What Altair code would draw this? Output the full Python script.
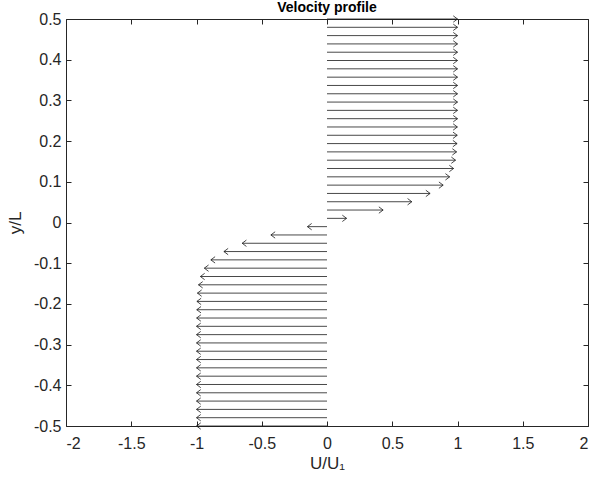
import altair as alt
import pandas as pd

# Wall-normal positions (y/L), bottom to top
y_pos = [-0.5000, -0.4796, -0.4592, -0.4388, -0.4184, -0.3980, -0.3776, -0.3571,
         -0.3367, -0.3163, -0.2959, -0.2755, -0.2551, -0.2347, -0.2143, -0.1939,
         -0.1735, -0.1531, -0.1327, -0.1122, -0.0918, -0.0714, -0.0510, -0.0306,
         -0.0102,
         0.0102, 0.0306, 0.0510, 0.0714, 0.0918, 0.1122, 0.1327, 0.1531,
         0.1735, 0.1939, 0.2143, 0.2347, 0.2551, 0.2755, 0.2959, 0.3163,
         0.3367, 0.3571, 0.3776, 0.3980, 0.4184, 0.4388, 0.4592, 0.4796,
         0.5000]

# Streamwise velocity U/U1 at each position
u_vel = [-1.0, -1.0, -1.0, -1.0, -1.0, -1.0, -1.0, -1.0,
         -1.0, -1.0, -1.0, -1.0, -1.0, -0.999, -0.998, -0.997,
         -0.993, -0.985, -0.97, -0.94, -0.89, -0.79, -0.65, -0.43,
         -0.15,
         0.15, 0.43, 0.65, 0.79, 0.89, 0.94, 0.97, 0.985,
         0.993, 0.997, 0.998, 0.999, 1.0, 1.0, 1.0, 1.0,
         1.0, 1.0, 1.0, 1.0, 1.0, 1.0, 1.0, 1.0,
         1.0]

x_ticks = [-2, -1.5, -1, -0.5, 0, 0.5, 1, 1.5, 2]
y_ticks = [-0.5, -0.4, -0.3, -0.2, -0.1, 0, 0.1, 0.2, 0.3, 0.4, 0.5]

df = pd.DataFrame({"y": y_pos, "u": u_vel})
df["x0"] = 0.0
df["dir"] = ["r" if v >= 0 else "l" for v in u_vel]

FONT = "Liberation Sans"
AX = "#262626"
ARROW = "#1a1a1a"
TICK_LEN = 5

# open V-shaped arrowheads, tip at the symbol origin
head_right = "M-1,-0.75L0,0L-1,0.75"
head_left = "M1,-0.75L0,0L1,0.75"

xs = alt.Scale(domain=[-2, 2], nice=False, zero=False)
ys = alt.Scale(domain=[-0.5, 0.5], nice=False, zero=False)


def frame_axis(orient, values, **kw):
    # axis line (box edge) with optional labels, no ticks
    return alt.Axis(values=values, orient=orient, ticks=False, grid=False,
                    domainColor=AX, domainWidth=1, labelColor=AX,
                    labelFont=FONT, labelFontSize=16, titleFont=FONT,
                    titleColor=AX, titleFontWeight="normal", titleFontSize=17,
                    **kw)


def inner_ticks(orient, values):
    # tick-only axis pulled inside the box so ticks point inward
    return alt.Axis(values=values, orient=orient, domain=False, labels=False,
                    title=None, grid=False, ticks=True, tickSize=TICK_LEN,
                    tickColor=AX, tickWidth=1, offset=-TICK_LEN)


x_bottom = frame_axis("bottom", x_ticks, title="U/U₁", labelPadding=9,
                      titlePadding=4, labelExpr="'' + datum.value")
y_left = frame_axis("left", y_ticks, title="y/L", labelPadding=5,
                    titlePadding=9, labelExpr="'' + datum.value")
x_top = frame_axis("top", x_ticks, labels=False, title=None)
y_right = frame_axis("right", y_ticks, labels=False, title=None)

shafts = alt.Chart(df).mark_rule(color=ARROW, strokeWidth=0.8).encode(
    x=alt.X("x0:Q", scale=xs, axis=x_bottom),
    x2="u:Q",
    y=alt.Y("y:Q", scale=ys, axis=y_left),
)

heads = alt.Chart(df).mark_point(
    filled=False, color=ARROW, strokeWidth=0.8, size=72, opacity=1
).encode(
    x=alt.X("u:Q", scale=xs, axis=x_top),
    y=alt.Y("y:Q", scale=ys, axis=y_right),
    shape=alt.Shape("dir:N", scale=alt.Scale(domain=["r", "l"],
                                             range=[head_right, head_left]),
                    legend=None),
)

ticks_bl = alt.Chart(df).mark_point(opacity=0).encode(
    x=alt.X("u:Q", scale=xs, axis=inner_ticks("bottom", x_ticks)),
    y=alt.Y("y:Q", scale=ys, axis=inner_ticks("left", y_ticks)),
)

ticks_tr = alt.Chart(df).mark_point(opacity=0).encode(
    x=alt.X("u:Q", scale=xs, axis=inner_ticks("top", x_ticks)),
    y=alt.Y("y:Q", scale=ys, axis=inner_ticks("right", y_ticks)),
)

chart = alt.layer(shafts, heads, ticks_bl, ticks_tr).resolve_axis(
    x="independent", y="independent"
).properties(
    width=522,
    height=407,
    autosize="none",
    padding={"left": 66, "top": 19, "right": 4, "bottom": 62},
    title=alt.TitleParams("Velocity profile", font=FONT, fontSize=14,
                          fontWeight="bold", color="#000000", offset=-4,
                          anchor="middle"),
).configure_view(stroke=None).configure(background="white")

chart.save("out.html", embed_options={"renderer": "svg", "actions": False})
